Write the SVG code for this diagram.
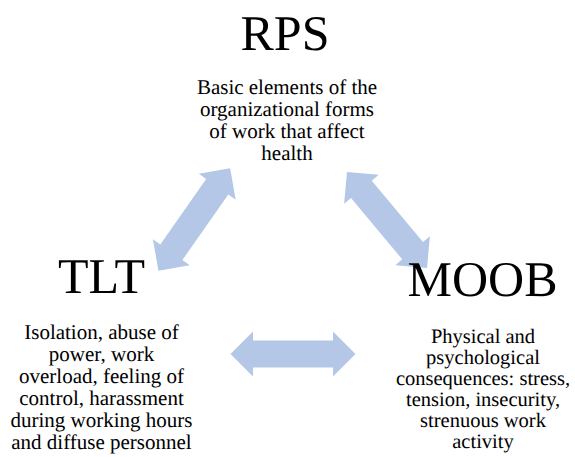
<svg xmlns="http://www.w3.org/2000/svg" width="575" height="457" viewBox="0 0 575 457" text-rendering="geometricPrecision">
<style>
.title{font-family:"Liberation Serif","Times New Roman",serif;font-size:50px;fill:#000;text-anchor:middle}
.txt{font-family:"Liberation Serif","Times New Roman",serif;font-size:21px;fill:#000;text-anchor:middle}
.sm{font-size:20.5px}
.arrow{fill:#B4C7E7}
</style>
<defs>
<path id="dbl" d="M -62.5 0 L -40 -22.5 L -40 -13.5 L 40 -13.5 L 40 -22.5 L 62.5 0 L 40 22.5 L 40 13.5 L -40 13.5 L -40 22.5 Z"/>
</defs>
<rect width="575" height="457" fill="#fff"/>
<g id="connectors">
<use href="#dbl" class="arrow" transform="translate(194.3 219.5) rotate(-55)"/>
<use href="#dbl" class="arrow" transform="translate(387 220) rotate(50.2)"/>
<use href="#dbl" class="arrow" transform="translate(293 354)"/>
</g>
<g id="rps">
<text class="title" x="285" y="50">RPS</text>
<text class="txt" x="287" y="94">Basic elements of the</text>
<text class="txt" x="287" y="116">organizational forms</text>
<text class="txt" x="287" y="138">of work that affect</text>
<text class="txt" x="287" y="160">health</text>
</g>
<g id="tlt">
<text class="title" x="101.5" y="293">TLT</text>
<text class="txt" x="101.5" y="339">Isolation, abuse of</text>
<text class="txt" x="101.5" y="361">power, work</text>
<text class="txt" x="101.5" y="383">overload, feeling of</text>
<text class="txt" x="101.5" y="405">control, harassment</text>
<text class="txt" x="101.5" y="427">during working hours</text>
<text class="txt" x="101.5" y="449">and diffuse personnel</text>
</g>
<g id="moob">
<text class="title" x="482.5" y="296">MOOB</text>
<text class="txt sm" x="483" y="343">Physical and</text>
<text class="txt sm" x="483" y="364">psychological</text>
<text class="txt sm" x="483" y="385">consequences: stress,</text>
<text class="txt sm" x="483" y="406">tension, insecurity,</text>
<text class="txt sm" x="483" y="427">strenuous work</text>
<text class="txt sm" x="483" y="448">activity</text>
</g>
</svg>
